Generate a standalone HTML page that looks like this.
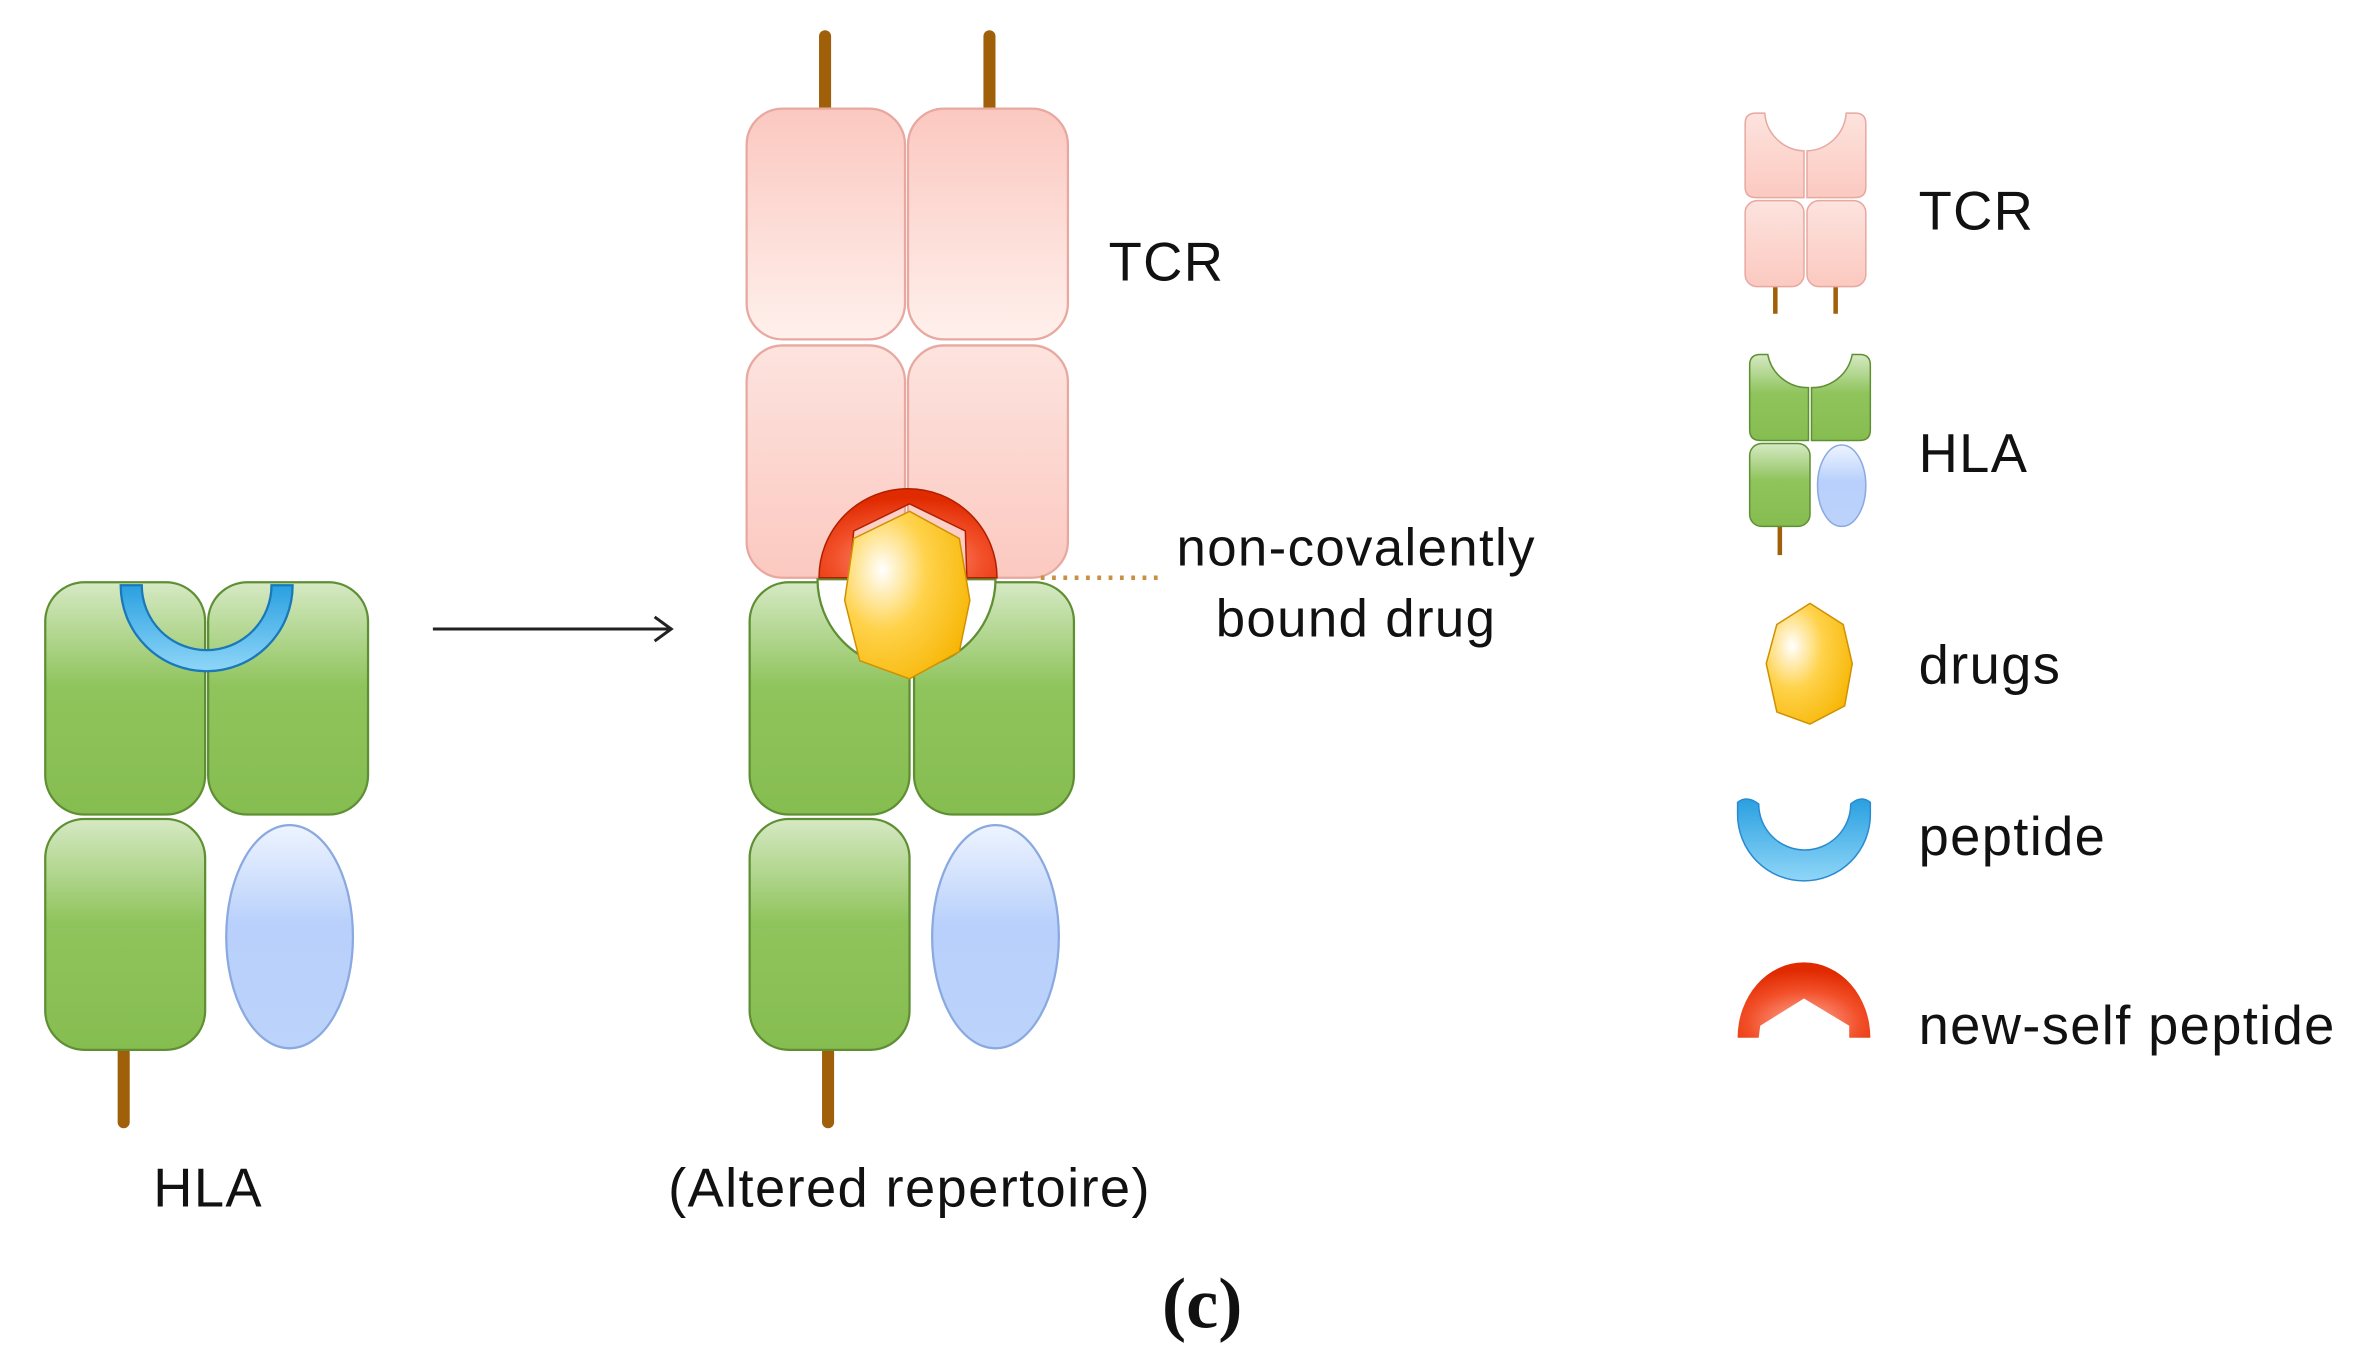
<!DOCTYPE html>
<html><head><meta charset="utf-8"><style>
html,body{margin:0;padding:0;background:#fff}
svg{display:block}
text{font-family:"Liberation Sans",sans-serif;fill:#111;letter-spacing:0.9px}
</style></head><body>
<svg width="2353" height="1358" viewBox="0 0 1560 900.3" xmlns="http://www.w3.org/2000/svg">
<defs>
<linearGradient id="g" x1="0" y1="0" x2="0" y2="1"><stop offset="0" stop-color="#d6e9c4"/><stop offset="0.45" stop-color="#8fc45c"/><stop offset="1" stop-color="#86bd50"/></linearGradient>
<linearGradient id="p" x1="0" y1="0" x2="0" y2="1"><stop offset="0" stop-color="#fbc8c0"/><stop offset="1" stop-color="#fff0ec"/></linearGradient>
<linearGradient id="p2" x1="0" y1="0" x2="0" y2="1"><stop offset="0" stop-color="#fde3de"/><stop offset="1" stop-color="#fbc9c0"/></linearGradient>
<linearGradient id="b" x1="0" y1="0" x2="0" y2="1"><stop offset="0" stop-color="#eef4ff"/><stop offset="0.45" stop-color="#b8d0fb"/><stop offset="1" stop-color="#bcd3fb"/></linearGradient>
<radialGradient id="y" cx="0.3" cy="0.35" r="0.8"><stop offset="0" stop-color="#fff"/><stop offset="0.45" stop-color="#ffd24a"/><stop offset="1" stop-color="#f6b400"/></radialGradient>
<radialGradient id="r" cx="0.5" cy="0.8" r="0.7"><stop offset="0" stop-color="#ffb0a0"/><stop offset="0.6" stop-color="#f2502a"/><stop offset="1" stop-color="#e02a00"/></radialGradient>
<linearGradient id="bl" x1="0" y1="0" x2="0" y2="1"><stop offset="0" stop-color="#2aa0e0"/><stop offset="1" stop-color="#8fd6f8"/></linearGradient>
</defs>
<g stroke="#a0600a" stroke-width="8" stroke-linecap="round">
<line x1="82" y1="696" x2="82" y2="744"/><line x1="549" y1="696" x2="549" y2="744"/>
<line x1="547" y1="24" x2="547" y2="74"/><line x1="656" y1="24" x2="656" y2="74"/>
</g>
<g stroke="#5f8f33" stroke-width="1.5">
<rect x="30" y="386" width="106" height="154" rx="26" fill="url(#g)"/>
<rect x="138" y="386" width="106" height="154" rx="26" fill="url(#g)"/>
<rect x="30" y="543" width="106" height="153" rx="26" fill="url(#g)"/>
</g>
<ellipse cx="192" cy="621" rx="42" ry="74" fill="url(#b)" stroke="#8aa9e0" stroke-width="1.5"/>
<path d="M80 388 A57 57 0 0 0 194 388 L180 388 A43 43 0 0 1 94 388 Z" fill="url(#bl)" stroke="#1a78b8" stroke-width="1.5"/>
<text x="138" y="800" font-size="36" text-anchor="middle">HLA</text>
<line x1="287" y1="417" x2="444" y2="417" stroke="#222" stroke-width="2"/>
<path d="M434 409 L445 417 L434 425" fill="none" stroke="#222" stroke-width="2"/>
<g stroke="#e8a8a0" stroke-width="1.5">
<rect x="495" y="72" width="105" height="153" rx="24" fill="url(#p)"/>
<rect x="602" y="72" width="106" height="153" rx="24" fill="url(#p)"/>
<rect x="495" y="229" width="105" height="154" rx="24" fill="url(#p2)"/>
<rect x="602" y="229" width="106" height="154" rx="24" fill="url(#p2)"/>
</g>
<g stroke="#5f8f33" stroke-width="1.5">
<rect x="497" y="386" width="106" height="154" rx="26" fill="url(#g)"/>
<rect x="606" y="386" width="106" height="154" rx="26" fill="url(#g)"/>
<rect x="497" y="543" width="106" height="153" rx="26" fill="url(#g)"/>
</g>
<ellipse cx="660" cy="621" rx="42" ry="74" fill="url(#b)" stroke="#8aa9e0" stroke-width="1.5"/>
<path d="M542 384 A59 59 0 0 0 660 384 Z" fill="#fff" stroke="#5f8f33" stroke-width="1.5"/>
<path d="M543 383 A59 59 0 0 1 661 383 L641 383 L640 352 L603 334 L566 352 L563 383 Z" fill="url(#r)" stroke="#b02000" stroke-width="1"/>
<path d="M603 339 L636 357 L643 398 L636 432 L603 450 L570 438 L560 398 L566 357 Z" fill="url(#y)" stroke="#d09000" stroke-width="1"/>
<line x1="690" y1="383" x2="772" y2="383" stroke="#c89040" stroke-width="3" stroke-dasharray="2.5 5"/>
<text x="735" y="186" font-size="36">TCR</text>
<text x="780" y="375" font-size="35">non-covalently</text>
<text x="806" y="422" font-size="35">bound drug</text>
<text x="603" y="800" font-size="36" text-anchor="middle">(Altered repertoire)</text>
<text x="797" y="880" font-size="48" font-weight="bold" text-anchor="middle" style="font-family:'Liberation Serif',serif;letter-spacing:0">(c)</text>
<g stroke="#a0600a" stroke-width="3"><line x1="1177" y1="188" x2="1177" y2="208"/><line x1="1217" y1="188" x2="1217" y2="208"/><line x1="1180" y1="348" x2="1180" y2="368"/></g>
<g stroke="#e8a8a0" stroke-width="1" fill="url(#p2)">
<path d="M1157 82 Q1157 75 1164 75 L1170 75 A27 27 0 0 0 1196 100 L1196 131 L1164 131 Q1157 131 1157 124 Z"/>
<path d="M1237 82 Q1237 75 1230 75 L1224 75 A27 27 0 0 1 1198 100 L1198 131 L1230 131 Q1237 131 1237 124 Z"/>
<rect x="1157" y="133" width="39" height="57" rx="8"/><rect x="1198" y="133" width="39" height="57" rx="8"/>
</g>
<g stroke="#5f8f33" stroke-width="1" fill="url(#g)">
<path d="M1160 242 Q1160 235 1167 235 L1172 235 A27 27 0 0 0 1199 257 L1199 292 L1167 292 Q1160 292 1160 285 Z"/>
<path d="M1240 242 Q1240 235 1233 235 L1228 235 A27 27 0 0 1 1201 257 L1201 292 L1233 292 Q1240 292 1240 285 Z"/>
<rect x="1160" y="294" width="40" height="55" rx="8"/>
</g>
<ellipse cx="1221" cy="322" rx="16" ry="27" fill="url(#b)" stroke="#8aa9e0"/>
<path d="M1200 400 L1222 414 L1228 440 L1223 468 L1200 480 L1178 472 L1171 440 L1178 414 Z" fill="url(#y)" stroke="#d09000"/>
<path d="M1152 540 A44 44 0 0 0 1240 540 L1240 532 Q1234 527 1227 533 A30 30 0 0 1 1166 533 Q1158 527 1152 532 Z" fill="url(#bl)" stroke="#2a8ad0"/>
<path d="M1152 688 A44 50 0 0 1 1240 688 L1226 688 L1226 680 L1196 662 L1167 680 L1166 688 Z" fill="url(#r)"/>
<text x="1272" y="152" font-size="36">TCR</text>
<text x="1272" y="313" font-size="36">HLA</text>
<text x="1272" y="453" font-size="36">drugs</text>
<text x="1272" y="567" font-size="36">peptide</text>
<text x="1272" y="692" font-size="36">new-self peptide</text>
</svg>
</body></html>
